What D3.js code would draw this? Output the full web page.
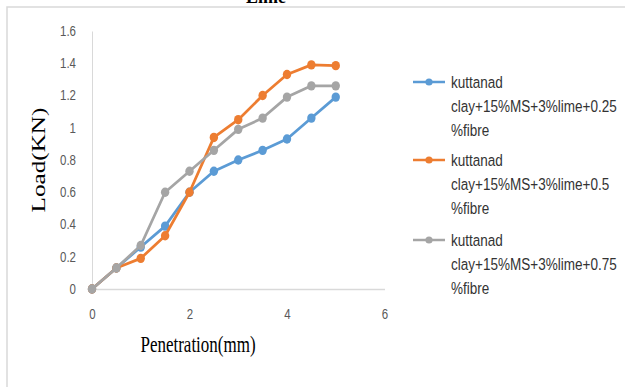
<!DOCTYPE html>
<html>
<head>
<meta charset="utf-8">
<script src="https://cdn.jsdelivr.net/npm/d3@7"></script>
<style>
  body { margin: 0; background: #fff; }
  svg { display: block; }
</style>
</head>
<body>
<div id="chart"></div>
<script>
// penetration (mm)
var penetration = [0, 0.5, 1, 1.5, 2, 2.5, 3, 3.5, 4, 4.5, 5];
// load (KN) for each fibre content
var load025 = [0, 0.13, 0.26, 0.39, 0.60, 0.73, 0.80, 0.86, 0.93, 1.06, 1.19];
var load05  = [0, 0.13, 0.19, 0.33, 0.60, 0.94, 1.05, 1.20, 1.33, 1.39, 1.385];
var load075 = [0, 0.13, 0.27, 0.60, 0.73, 0.86, 0.99, 1.06, 1.19, 1.26, 1.26];
var seriesNames = [
    ["kuttanad", "clay+15%MS+3%lime+0.25", "%fibre"],
    ["kuttanad", "clay+15%MS+3%lime+0.5", "%fibre"],
    ["kuttanad", "clay+15%MS+3%lime+0.75", "%fibre"]
];
var xTicks = [0, 2, 4, 6];
var yTicks = [0, 0.2, 0.4, 0.6, 0.8, 1, 1.2, 1.4, 1.6];

var colors = ["#5b9bd5", "#ed7d31", "#a5a5a5"];
var allLoads = [load025, load05, load075];

var width = 625, height = 387;
var narrow = 0.82; // squeeze sans text like a narrow face

var svg = d3.select("#chart").append("svg")
    .attr("width", width)
    .attr("height", height);

// outer frame (only top and left are visible)
svg.append("path")
    .attr("d", "M7,387V7H625")
    .attr("fill", "none")
    .attr("stroke", "#d9d9d9")
    .attr("stroke-width", 1.5);

// title cut off at top
svg.append("text")
    .attr("x", 266)
    .attr("y", 3)
    .attr("text-anchor", "middle")
    .style("font-family", "Liberation Serif, serif")
    .style("font-weight", "bold")
    .style("font-size", "18px")
    .text("Lime");

var x = d3.scaleLinear().domain([0, 6]).range([92, 384.5]);
var y = d3.scaleLinear().domain([0, 1.6]).range([289, 31]);

function tickFmt(d) { return String(+d.toFixed(1)); }

// y axis
var gy = svg.append("g")
    .attr("transform", "translate(" + x(0) + ",0)")
    .call(d3.axisLeft(y).tickValues(yTicks).tickSize(0).tickFormat(tickFmt));
gy.select(".domain").attr("stroke", "#d9d9d9").attr("stroke-width", 1);
gy.selectAll("text")
    .attr("x", -16 / narrow)
    .attr("transform", "scale(" + narrow + ",1)")
    .attr("fill", "#595959")
    .style("font-family", "Liberation Sans, sans-serif")
    .style("font-size", "14px");

// x axis
var gx = svg.append("g")
    .attr("transform", "translate(0," + y(0) + ")")
    .call(d3.axisBottom(x).tickValues(xTicks).tickSize(0).tickPadding(20).tickFormat(tickFmt));
gx.select(".domain").attr("stroke", "#d9d9d9").attr("stroke-width", 1.5);
gx.selectAll("text")
    .attr("transform", "scale(" + narrow + ",1)")
    .attr("fill", "#595959")
    .style("font-family", "Liberation Sans, sans-serif")
    .style("font-size", "14px");

// axis titles (the picture is stretched vertically)
svg.append("text")
    .attr("transform", "translate(198,352) scale(1,1.3)")
    .attr("text-anchor", "middle")
    .style("font-family", "Liberation Serif, serif")
    .style("font-size", "17px")
    .attr("fill", "#000")
    .text("Penetration(mm)");

svg.append("text")
    .attr("transform", "translate(45,160) rotate(-90) scale(1.4,1)")
    .attr("text-anchor", "middle")
    .style("font-family", "Liberation Serif, serif")
    .style("font-size", "18px")
    .attr("fill", "#000")
    .text("Load(KN)");

// lines and markers
var line = d3.line()
    .x(function(d) { return x(d[0]); })
    .y(function(d) { return y(d[1]); });

allLoads.forEach(function(vals, i) {
    var pts = penetration.map(function(p, j) { return [p, vals[j]]; });
    var g = svg.append("g");
    g.append("path")
        .datum(pts)
        .attr("d", line)
        .attr("fill", "none")
        .attr("stroke", colors[i])
        .attr("stroke-width", 2.75)
        .attr("stroke-linejoin", "round");
    g.selectAll("ellipse")
        .data(pts)
        .enter()
        .append("ellipse")
        .attr("cx", function(d) { return x(d[0]); })
        .attr("cy", function(d) { return y(d[1]); })
        .attr("rx", 4.2)
        .attr("ry", 4.7)
        .attr("fill", colors[i]);
});

// legend
var legTop = [82, 160, 240];
seriesNames.forEach(function(lines, i) {
    var g = svg.append("g").attr("transform", "translate(0," + legTop[i] + ")");
    g.append("line")
        .attr("x1", 413).attr("x2", 445)
        .attr("y1", 0).attr("y2", 0)
        .attr("stroke", colors[i])
        .attr("stroke-width", 2.5);
    g.append("circle")
        .attr("cx", 429).attr("cy", 0).attr("r", 3.6)
        .attr("fill", colors[i]);
    lines.forEach(function(t, k) {
        g.append("text")
            .attr("transform", "translate(451," + (k * 24) + ") scale(" + narrow + ",1)")
            .attr("dy", "0.35em")
            .attr("fill", "#333")
            .style("font-family", "Liberation Sans, sans-serif")
            .style("font-size", "16.5px")
            .text(t);
    });
});
</script>
</body>
</html>
